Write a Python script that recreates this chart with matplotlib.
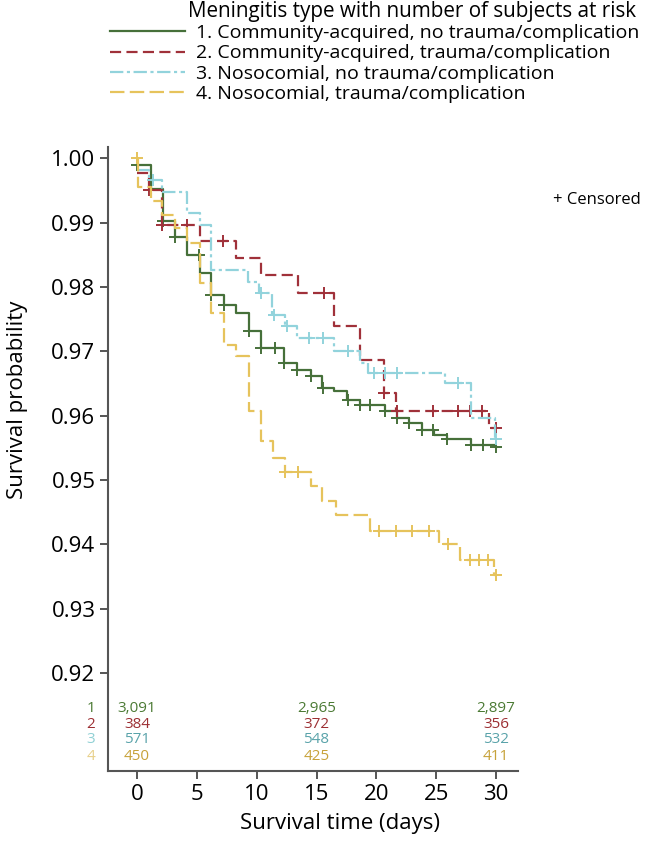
import numpy as np
import matplotlib.pyplot as plt

plt.rcParams['font.family'] = ['Open Sans', 'DejaVu Sans']

# Kaplan-Meier step data (time in days, survival probability)
t1 = [0, 1.14, 2.19, 3.14, 4.19, 5.24, 6.19, 7.24, 8.3, 9.35, 10.4, 12.3, 13.35, 14.5,
      15.46, 16.5, 17.56, 18.6, 20.7, 21.7, 22.7, 23.8, 24.8, 25.9, 27.9, 29.9, 30]
s1 = [0.9989, 0.9952, 0.9902, 0.9878, 0.9850, 0.9822, 0.9788, 0.9772, 0.9759, 0.9731,
      0.9705, 0.9682, 0.9671, 0.9661, 0.9643, 0.9638, 0.9625, 0.9617, 0.9607, 0.9596,
      0.9589, 0.9578, 0.9570, 0.9563, 0.9555, 0.9552, 0.9552]
c1 = [0, 2.2, 3.2, 5.2, 6.2, 7.3, 9.4, 10.4, 11.5, 12.3, 13.4, 14.5, 15.5, 17.6, 18.6,
      19.5, 20.7, 21.7, 22.7, 23.8, 24.7, 25.9, 27.9, 28.9, 30]

t2 = [0, 1.03, 2.08, 5.24, 8.3, 10.4, 13.45, 16.5, 18.6, 20.6, 21.67, 29.4, 30]
s2 = [0.9977, 0.9951, 0.9896, 0.9871, 0.9845, 0.9819, 0.9790, 0.9739, 0.9687, 0.9635,
      0.9607, 0.9581, 0.9581]
c2 = [1.03, 2.1, 4.2, 7.2, 15.6, 20.6, 21.7, 24.7, 26.8, 27.8, 28.8, 30]

t3 = [0, 1.03, 2.08, 4.19, 5.24, 6.19, 9.25, 10.2, 11.3, 12.4, 13.4, 16.5, 18.6, 19.3,
      25.7, 27.9, 29.9, 30]
s3 = [0.9982, 0.9966, 0.9948, 0.9915, 0.9896, 0.9827, 0.9808, 0.9790, 0.9757, 0.9739,
      0.9720, 0.9700, 0.9682, 0.9666, 0.9651, 0.9596, 0.9563, 0.9563]
c3 = [1.35, 10.4, 11.45, 12.5, 14.4, 15.5, 17.6, 19.8, 20.7, 21.7, 26.8, 30]

t4 = [0, 0.1, 1.14, 2.1, 3.14, 4.19, 5.24, 6.19, 7.24, 8.3, 9.35, 10.4, 11.4, 12.4,
      14.5, 15.45, 16.6, 19.5, 25.2, 27.0, 29.8, 30]
s4 = [1.0, 0.9956, 0.9933, 0.9912, 0.9891, 0.9868, 0.9806, 0.9759, 0.9710, 0.9692,
      0.9607, 0.9560, 0.9534, 0.9513, 0.9490, 0.9467, 0.9445, 0.9420, 0.9400, 0.9375,
      0.9353, 0.9353]
c4 = [0, 12.4, 13.45, 20.2, 21.6, 23.0, 24.4, 26.0, 27.8, 28.6, 29.3, 30]

labels = ['1. Community-acquired, no trauma/complication',
          '2. Community-acquired, trauma/complication',
          '3. Nosocomial, no trauma/complication',
          '4. Nosocomial, trauma/complication']

# numbers at risk
risk_days = [0, 15, 30]
risk_1 = ['3,091', '2,965', '2,897']
risk_2 = ['384', '372', '356']
risk_3 = ['571', '548', '532']
risk_4 = ['450', '425', '411']

colors = ['#46703a', '#a0313a', '#92d3dc', '#e6c35c']
text_colors = ['#4b7a34', '#9c2f33', '#5aa3aa', '#c7a23a']
row_colors = ['#4b7a34', '#9c2f33', '#8fd0d4', '#e8d08a']
styles = ['-', (0, (5.0, 2.4)), (0, (6.0, 1.6, 1.4, 1.6)), (0, (6.5, 2.4))]

fig = plt.figure(figsize=(6.6, 8.49), dpi=100)
ax = fig.add_axes([108 / 660, 78 / 849, 410 / 660, 624.3 / 849])

handles = []
for t, s, c, col, ls in zip([t1, t2, t3, t4], [s1, s2, s3, s4], [c1, c2, c3, c4],
                            colors, styles):
    ln, = ax.step(t, s, where='post', color=col, lw=1.6, ls=ls)
    handles.append(ln)
    idx = np.searchsorted(t, c, side='right') - 1
    ax.plot(c, np.array(s)[idx], '+', color=col, ms=9, mew=1.4, ls='none')

ax.set_xlim(-2.42, 31.83)
ax.set_ylim(0.90478, 1.0018)
ax.set_xticks([0, 5, 10, 15, 20, 25, 30])
yt = [0.92, 0.93, 0.94, 0.95, 0.96, 0.97, 0.98, 0.99, 1.00]
ax.set_yticks(yt)
ax.set_yticklabels([f'{v:.2f}' for v in yt])
ax.tick_params(labelsize=16, length=6, width=1.4, color='#555555', pad=3)

for side in ['top', 'right']:
    ax.spines[side].set_visible(False)
for side in ['left', 'bottom']:
    ax.spines[side].set_color('#555555')
    ax.spines[side].set_linewidth(1.5)

fig.text(340 / 660, 1 - 823 / 849, 'Survival time (days)', fontsize=16,
         ha='center', va='center')
fig.text(18 / 660, 1 - 400 / 849, 'Survival probability', rotation=90,
         fontsize=16, ha='center', va='center')

# risk table inside the axes
row_y = [0.91457, 0.91208, 0.90960, 0.90696]
for i, row in enumerate([risk_1, risk_2, risk_3, risk_4]):
    for d, txt in zip(risk_days, row):
        ax.text(d, row_y[i], txt, ha='center', va='center', fontsize=11,
                color=text_colors[i])
    ax.text(-3.84, row_y[i], str(i + 1), ha='center', va='center', fontsize=11,
            color=row_colors[i], clip_on=False)

fig.text(553 / 660, 1 - 200 / 849, '+ Censored', fontsize=12, va='center', ha='left')

# legend
fig.text(188 / 660, 1 - 11 / 849, 'Meningitis type with number of subjects at risk',
         fontsize=14.9, va='center', ha='left')
fig.legend(handles, labels, loc='upper left', bbox_to_anchor=(110 / 660, 1 - 24 / 849),
           frameon=False, handlelength=3.86, handletextpad=0.57, labelspacing=0.12,
           fontsize=14, borderaxespad=0, borderpad=0)

fig.savefig('out.png', dpi=100)
